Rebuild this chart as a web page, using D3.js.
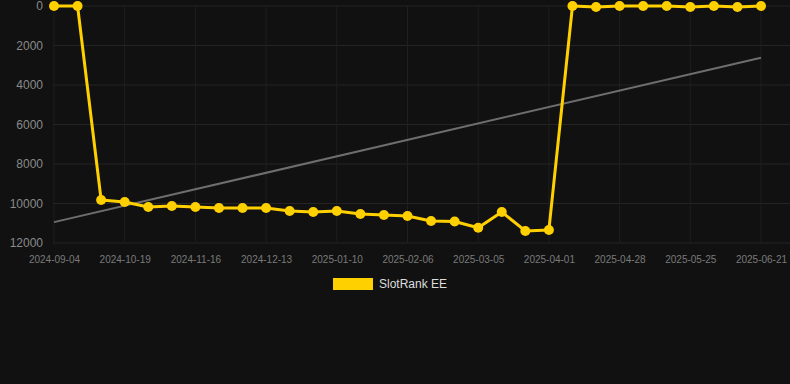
<!DOCTYPE html>
<html>
<head>
<meta charset="utf-8">
<script src="https://cdn.jsdelivr.net/npm/d3@7"></script>
<style>
  html, body { margin: 0; padding: 0; background: #111111; }
  svg { display: block; font-family: "Helvetica Neue", Arial, "Liberation Sans", sans-serif; }
</style>
</head>
<body>
<script>
var dates = ["2024-09-04", "2024-09-13", "2024-10-10", "2024-10-19", "2024-10-28", "2024-11-07",
    "2024-11-16", "2024-11-25", "2024-12-04", "2024-12-13", "2024-12-22", "2025-01-01",
    "2025-01-10", "2025-01-19", "2025-01-28", "2025-02-06", "2025-02-15", "2025-02-24",
    "2025-03-05", "2025-03-14", "2025-03-23", "2025-04-01", "2025-04-10", "2025-04-19",
    "2025-04-28", "2025-05-07", "2025-05-16", "2025-05-25", "2025-06-03", "2025-06-12",
    "2025-06-21"];
var ranks = [1, 1, 9820, 9920, 10180, 10130, 10180, 10230, 10230, 10230, 10380, 10430,
    10380, 10530, 10580, 10630, 10890, 10910, 11230, 10430, 11390, 11340,
    1, 50, 1, 1, 1, 50, 1, 50, 1];
var yTicks = [0, 2000, 4000, 6000, 8000, 10000, 12000];
var seriesName = "SlotRank EE";

var width = 790, height = 384;
var plot = { left: 53, right: 790, top: 6, bottom: 243 };

var svg = d3.select("body").append("svg")
    .attr("width", width)
    .attr("height", height);

var x = d3.scalePoint()
    .domain(d3.range(dates.length))
    .range([54, 761]);

var y = d3.scaleLinear()
    .domain([0, 12000])
    .range([plot.top, plot.bottom]);

// grid
svg.append("g")
    .selectAll("line")
    .data(yTicks)
    .enter().append("line")
    .attr("x1", plot.left)
    .attr("x2", plot.right)
    .attr("y1", function (d) { return y(d); })
    .attr("y2", function (d) { return y(d); })
    .attr("stroke", "#242424")
    .attr("stroke-width", 1);

var shown = d3.range(0, dates.length, 3);
svg.append("g")
    .selectAll("line")
    .data(shown)
    .enter().append("line")
    .attr("x1", function (i) { return x(i); })
    .attr("x2", function (i) { return x(i); })
    .attr("y1", plot.top)
    .attr("y2", plot.bottom)
    .attr("stroke", "#1f1f1f")
    .attr("stroke-width", 1);

// axes
var yAxis = d3.axisLeft(y)
    .tickValues(yTicks)
    .tickSize(0)
    .tickPadding(0)
    .tickFormat(function (d) { return d; });

svg.append("g")
    .attr("transform", "translate(43,0)")
    .call(yAxis)
    .call(function (g) { g.select(".domain").remove(); })
    .selectAll("text")
    .attr("fill", "#8a8a8a")
    .style("font-size", "12px")
    .style("font-family", "Helvetica Neue, Arial, Liberation Sans, sans-serif");

var xAxis = d3.axisBottom(x)
    .tickValues(shown)
    .tickSize(0)
    .tickPadding(0)
    .tickFormat(function (i) { return dates[i]; });

svg.append("g")
    .attr("transform", "translate(0," + 259 + ")")
    .call(xAxis)
    .call(function (g) { g.select(".domain").remove(); })
    .selectAll("text")
    .attr("fill", "#7a7a7a")
    .attr("y", 0)
    .attr("dy", "0.35em")
    .style("font-size", "10px")
    .style("font-family", "Helvetica Neue, Arial, Liberation Sans, sans-serif");

// trend line (least squares over the points)
var n = ranks.length;
var mx = d3.mean(d3.range(n)), my = d3.mean(ranks);
var sxy = d3.sum(ranks, function (v, i) { return (i - mx) * (v - my); });
var sxx = d3.sum(d3.range(n), function (i) { return (i - mx) * (i - mx); });
var slope = sxy / sxx, icpt = my - slope * mx;

svg.append("line")
    .attr("x1", x(0))
    .attr("y1", y(icpt))
    .attr("x2", x(n - 1))
    .attr("y2", y(icpt + slope * (n - 1)))
    .attr("stroke", "#6e6e6e")
    .attr("stroke-width", 2);

// series
var line = d3.line()
    .x(function (d, i) { return x(i); })
    .y(function (d) { return y(d); });

svg.append("path")
    .datum(ranks)
    .attr("d", line)
    .attr("fill", "none")
    .attr("stroke", "#FFD000")
    .attr("stroke-width", 3)
    .attr("stroke-linejoin", "round");

svg.append("g")
    .selectAll("circle")
    .data(ranks)
    .enter().append("circle")
    .attr("cx", function (d, i) { return x(i); })
    .attr("cy", function (d) { return y(d); })
    .attr("r", 5)
    .attr("fill", "#FFD000");

// legend
var legend = svg.append("g").attr("transform", "translate(333,278)");
legend.append("rect")
    .attr("width", 40)
    .attr("height", 12)
    .attr("fill", "#FFD000");
legend.append("text")
    .attr("x", 46)
    .attr("y", 6)
    .attr("dy", "0.35em")
    .attr("fill", "#dddddd")
    .style("font-size", "12px")
    .text(seriesName);
</script>
</body>
</html>
